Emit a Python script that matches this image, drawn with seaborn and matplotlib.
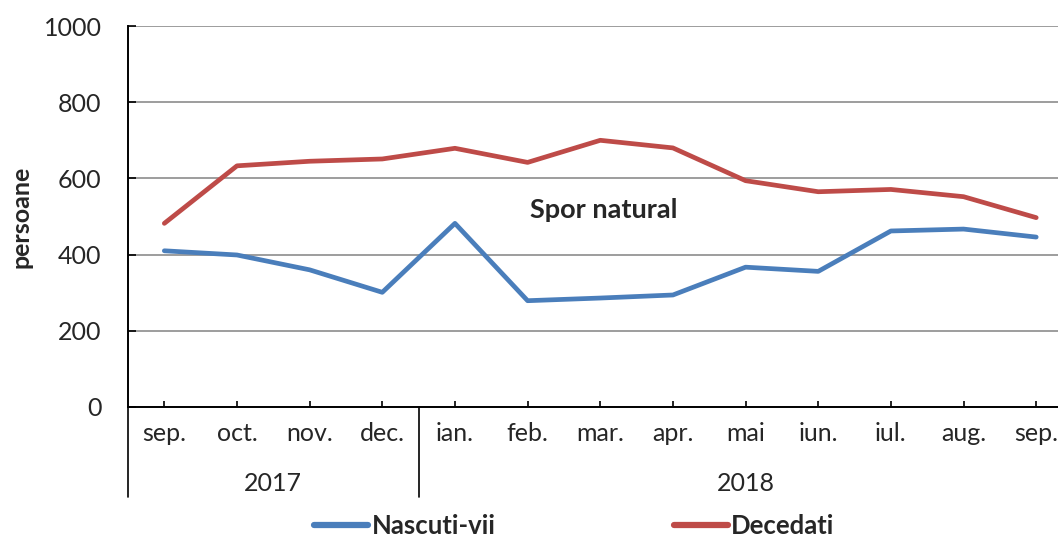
import pandas as pd
import seaborn as sns
import matplotlib.pyplot as plt
import matplotlib.transforms as mtransforms

months = ["sep.", "oct.", "nov.", "dec.", "ian.", "feb.", "mar.", "apr.",
          "mai", "iun.", "iul.", "aug.", "sep."]
years = ["2017", "2018"]
year_spans = [(-0.5, 3.5), (3.5, 12.5)]
nascuti = [410, 399, 360, 301, 482, 279, 286, 294, 367, 356, 462, 467, 446]
decedati = [482, 633, 645, 651, 679, 642, 700, 680, 594, 565, 571, 552, 497]

sns.set_theme(style="white")
plt.rcParams["font.family"] = ["Lato", "DejaVu Sans"]

df = pd.concat([
    pd.DataFrame({"idx": range(len(months)), "val": nascuti, "serie": "Nascuti-vii"}),
    pd.DataFrame({"idx": range(len(months)), "val": decedati, "serie": "Decedati"}),
], ignore_index=True)

fig = plt.figure(figsize=(10.58, 5.39), dpi=100)
ax = fig.add_axes([128 / 1058, 132 / 539, 930 / 1058, 381 / 539])

pal = {"Nascuti-vii": "#4A7EBB", "Decedati": "#BE4B48"}
sns.lineplot(data=df, x="idx", y="val", hue="serie", palette=pal, linewidth=3.4,
             ax=ax, solid_capstyle="round")

ax.set_xlim(-0.5, 12.3)
ax.set_ylim(0, 1000)
ax.set_yticks(range(0, 1001, 200))
ax.set_xticks(range(len(months)))
ax.set_xticklabels(months)
ax.yaxis.grid(True, color="#8c8c8c", linewidth=1.2)
ax.set_axisbelow(True)
for s in ["top", "right"]:
    ax.spines[s].set_visible(False)
for s in ["left", "bottom"]:
    ax.spines[s].set_color("black")
    ax.spines[s].set_linewidth(1.4)
ax.tick_params(axis="y", direction="in", length=6, width=1.2, color="black",
               labelsize=18, pad=19, left=True)
ax.tick_params(axis="x", direction="in", length=4, width=1.2, color="black",
               labelsize=18, pad=11, bottom=True)
ax.set_xlabel("")
ax.set_ylabel("persoane", fontsize=18, fontweight="bold", labelpad=8)

ax.text(6.05, 517, "Spor natural", fontsize=19.5, fontweight="bold",
        ha="center", va="center")

# year groups under the month labels
trans = mtransforms.blended_transform_factory(ax.transData, ax.transAxes)
for yr, (a, b) in zip(years, year_spans):
    ax.text((a + b) / 2, -0.2, yr, transform=trans, fontsize=18,
            ha="center", va="center")
for xv in [-0.5, 3.5]:
    ax.plot([xv, xv], [0, -0.236], transform=trans, color="black",
            linewidth=1.2, clip_on=False)

sns.move_legend(ax, "center", bbox_to_anchor=(0.48, -0.312), ncol=2,
                frameon=False, title=None, fontsize=18.5, handlelength=2.1,
                handletextpad=0.12, columnspacing=6.95)
for t in ax.get_legend().get_texts():
    t.set_fontweight("bold")
for h in ax.get_legend().legend_handles:
    h.set_linewidth(4.5)

fig.savefig("out.png", dpi=100)
